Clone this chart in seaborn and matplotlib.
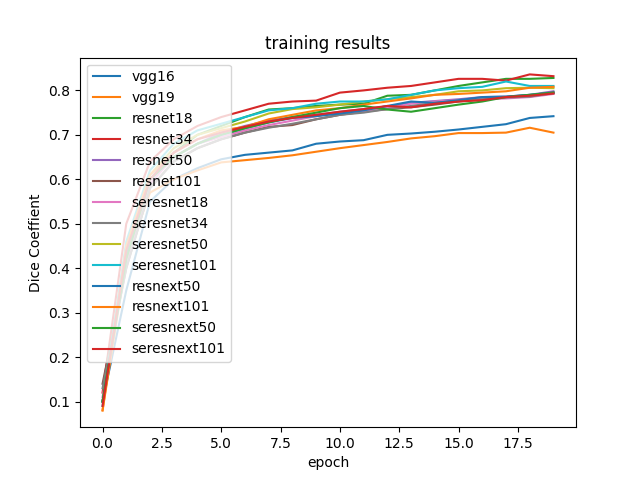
import matplotlib
matplotlib.use("Agg")
import matplotlib.pyplot as plt
import seaborn as sns
import pandas as pd

epochs = list(range(20))
names = ["vgg16","vgg19","resnet18","resnet34","resnet50","resnet101","seresnet18","seresnet34",
         "seresnet50","seresnet101","resnext50","resnext101","seresnext50","seresnext101"]

vgg16 = [0.10,0.35,0.55,0.60,0.625,0.645,0.655,0.660,0.665,0.680,0.685,0.688,0.700,0.703,0.707,0.712,0.718,0.724,0.738,0.742]
vgg19 = [0.08,0.42,0.57,0.60,0.620,0.638,0.643,0.648,0.654,0.662,0.670,0.677,0.684,0.692,0.697,0.704,0.704,0.705,0.716,0.705]
resnet18 = [0.10,0.45,0.60,0.66,0.70,0.720,0.740,0.757,0.760,0.765,0.768,0.770,0.788,0.790,0.800,0.810,0.818,0.826,0.826,0.828]
resnet34 = [0.12,0.50,0.64,0.69,0.72,0.740,0.755,0.770,0.775,0.777,0.795,0.800,0.806,0.810,0.818,0.826,0.826,0.822,0.836,0.832]
resnet50 = [0.10,0.42,0.60,0.65,0.68,0.705,0.720,0.732,0.740,0.745,0.752,0.758,0.764,0.772,0.776,0.780,0.785,0.786,0.790,0.798]
resnet101 = [0.14,0.40,0.58,0.64,0.67,0.690,0.705,0.718,0.722,0.735,0.745,0.752,0.758,0.762,0.768,0.775,0.780,0.785,0.788,0.795]
seresnet18 = [0.11,0.41,0.59,0.65,0.68,0.695,0.710,0.722,0.732,0.742,0.750,0.752,0.760,0.770,0.775,0.778,0.780,0.782,0.785,0.792]
seresnet34 = [0.13,0.40,0.58,0.64,0.67,0.690,0.705,0.716,0.725,0.735,0.745,0.750,0.758,0.765,0.772,0.776,0.780,0.784,0.786,0.794]
seresnet50 = [0.10,0.44,0.61,0.67,0.70,0.715,0.730,0.748,0.758,0.762,0.768,0.775,0.780,0.785,0.790,0.798,0.800,0.805,0.806,0.805]
seresnet101 = [0.09,0.46,0.62,0.68,0.71,0.725,0.740,0.755,0.760,0.770,0.775,0.775,0.780,0.790,0.800,0.805,0.808,0.820,0.810,0.810]
resnext50 = [0.10,0.43,0.60,0.65,0.68,0.700,0.715,0.728,0.738,0.742,0.748,0.755,0.765,0.775,0.772,0.778,0.785,0.786,0.790,0.795]
resnext101 = [0.08,0.45,0.61,0.66,0.69,0.710,0.718,0.735,0.745,0.755,0.760,0.768,0.775,0.782,0.790,0.792,0.795,0.798,0.806,0.808]
seresnext50 = [0.10,0.42,0.60,0.65,0.68,0.700,0.715,0.728,0.740,0.750,0.760,0.765,0.757,0.752,0.760,0.768,0.775,0.785,0.790,0.795]
seresnext101 = [0.09,0.44,0.60,0.66,0.69,0.705,0.718,0.730,0.738,0.745,0.752,0.758,0.765,0.762,0.770,0.775,0.778,0.785,0.788,0.793]

series = [vgg16,vgg19,resnet18,resnet34,resnet50,resnet101,seresnet18,seresnet34,
          seresnet50,seresnet101,resnext50,resnext101,seresnext50,seresnext101]
df = pd.DataFrame({"epoch": epochs * len(names),
                   "model": [n for n in names for _ in epochs],
                   "dice": [v for s in series for v in s]})

tab10 = plt.get_cmap("tab10").colors
palette = {n: tab10[i % 10] for i, n in enumerate(names)}

fig, ax = plt.subplots(figsize=(6.4, 4.8), dpi=100)
sns.lineplot(data=df, x="epoch", y="dice", hue="model", hue_order=names, palette=palette, ax=ax)
ax.set_title("training results")
ax.set_xlabel("epoch")
ax.set_ylabel("Dice Coeffient")
ax.legend(loc="upper left", title=None)
fig.savefig("out.png")
